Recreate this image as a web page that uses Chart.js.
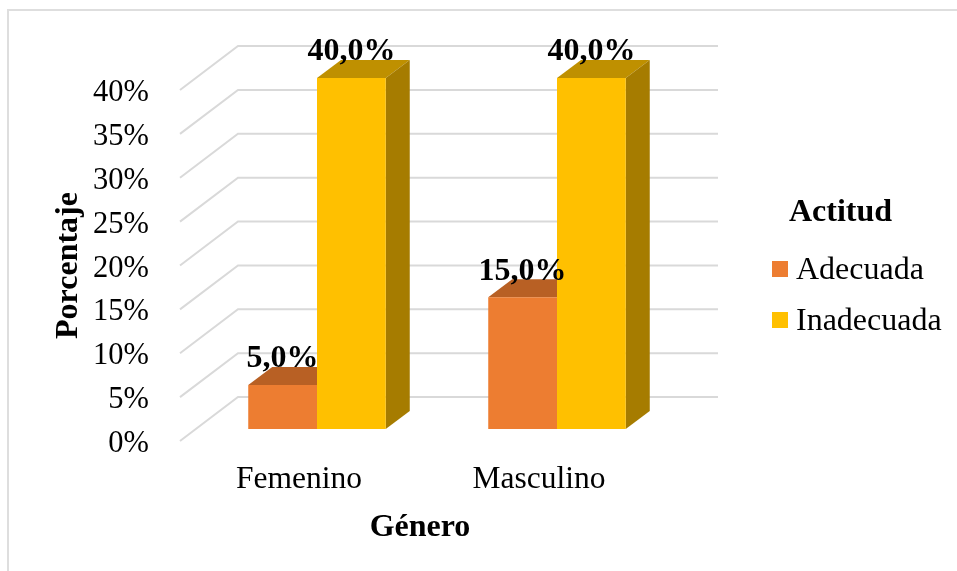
<!DOCTYPE html>
<html>
<head>
<meta charset="utf-8">
<style>
  body { margin: 0; background: #fff; }
  #frame { position: absolute; left: 7px; top: 9px; right: 0; bottom: 0; border-left: 2px solid #dedede; border-top: 2px solid #dedede; }
  canvas { position: absolute; left: 0; top: 0; }
</style>
<script src="https://cdn.jsdelivr.net/npm/chart.js@4"></script>
</head>
<body>
<div id="frame"></div>
<canvas id="myChart" width="957" height="571"></canvas>
<script>
const categories = ["Femenino", "Masculino"];
const adecuada = [5, 15];
const inadecuada = [40, 40];
const seriesNames = ["Adecuada", "Inadecuada"];
const legendTitle = "Actitud";
const xTitle = "Género";
const yTitle = "Porcentaje";

const serif = "'Liberation Serif'";
const black = "#000";

// depth of the fake 3D: wall behind the plot, and the bars themselves
const wallDx = 58, wallDy = 44;
const barDx = 24, barDy = 18;
const planeShift = 17;

const shades = [
  { front: "#ED7D31", top: "#B86024", side: "#9E5324" },
  { front: "#FFC000", top: "#BF9000", side: "#A67C00" }
];

// grid on the back wall and the diagonals on the side wall
const wallPlugin = {
  id: "wall",
  beforeDatasetsDraw(chart) {
    const y = chart.scales.y, area = chart.chartArea, c = chart.ctx;
    const left = area.left - planeShift, right = area.right - planeShift;
    c.save();
    c.strokeStyle = "#D9D9D9";
    c.lineWidth = 2;
    y.ticks.forEach(t => {
      const py = y.getPixelForValue(t.value);
      c.beginPath();
      c.moveTo(left, py);
      c.lineTo(left + wallDx, py - wallDy);
      c.lineTo(right + wallDx, py - wallDy);
      c.stroke();
    });
    c.restore();
  }
};

// top and side faces. The library paints the last dataset first, so all faces
// go down before any bar front: the yellow front then covers the orange faces
const facesPlugin = {
  id: "faces",
  beforeDatasetsDraw(chart) {
    const c = chart.ctx;
    chart.data.datasets.forEach((ds, i) => {
      const shade = shades[i];
      chart.getDatasetMeta(i).data.forEach(bar => {
        const p = bar.getProps(["x", "y", "base", "width"], true);
        const l = p.x - p.width / 2, r = p.x + p.width / 2;
        c.fillStyle = shade.top;
        c.beginPath();
        c.moveTo(l, p.y);
        c.lineTo(l + barDx, p.y - barDy);
        c.lineTo(r + barDx, p.y - barDy);
        c.lineTo(r, p.y);
        c.fill();
        c.fillStyle = shade.side;
        c.beginPath();
        c.moveTo(r, p.y);
        c.lineTo(r + barDx, p.y - barDy);
        c.lineTo(r + barDx, p.base - barDy);
        c.lineTo(r, p.base);
        c.fill();
      });
    });
  }
};

// value labels, x axis title and the legend block
const textPlugin = {
  id: "texts",
  afterDatasetsDraw(chart) {
    const c = chart.ctx, area = chart.chartArea;
    c.save();
    c.fillStyle = black;
    c.textAlign = "center";
    c.textBaseline = "middle";
    c.font = "bold 32px " + serif;
    chart.data.datasets.forEach((ds, i) => {
      chart.getDatasetMeta(i).data.forEach((bar, j) => {
        c.fillText(ds.data[j].toFixed(1).replace(".", ",") + "%", bar.x, bar.y - 26);
      });
    });
    c.fillText(xTitle, (area.left + area.right) / 2 - planeShift, 528);
    c.fillText(legendTitle, 840.5, 213);
    c.textAlign = "left";
    c.font = "32px " + serif;
    chart.data.datasets.forEach((ds, i) => {
      const rowY = 269 + i * 51;
      c.fillStyle = ds.backgroundColor;
      c.fillRect(772, rowY - 8, 16, 16);
      c.fillStyle = black;
      c.fillText(ds.label, 796, rowY + 2);
    });
    c.restore();
  }
};

new Chart(document.getElementById("myChart"), {
  type: "bar",
  data: {
    labels: categories,
    datasets: [
      { label: seriesNames[0], data: adecuada, backgroundColor: shades[0].front, yAxisID: "y1", clip: false },
      { label: seriesNames[1], data: inadecuada, backgroundColor: shades[1].front, yAxisID: "y1", clip: false }
    ]
  },
  plugins: [wallPlugin, facesPlugin, textPlugin],
  options: {
    responsive: false,
    animation: false,
    layout: { padding: { top: 90, right: 280, left: 0, bottom: 0 } },
    categoryPercentage: 0.573,
    barPercentage: 1,
    plugins: {
      legend: { display: false },
      tooltip: { enabled: false }
    },
    scales: {
      x: {
        grid: { display: false, drawTicks: false },
        border: { display: false },
        afterFit(s) { s.height = 130; },
        ticks: {
          color: black,
          font: { family: serif, size: 31.5 },
          padding: 20,
          labelOffset: -planeShift - 1,
          maxRotation: 0
        }
      },
      y: {
        min: 0,
        max: 40,
        grid: { display: false, drawTicks: false },
        border: { display: false },
        afterFit(s) { s.width = 197; },
        title: {
          display: true,
          text: yTitle,
          color: black,
          font: { family: serif, size: 32, weight: "bold" },
          padding: { top: 50, bottom: 0 }
        },
        ticks: {
          stepSize: 5,
          color: black,
          font: { family: serif, size: 30.5 },
          padding: 48,
          labelOffset: 3,
          callback: v => v + "%"
        }
      },
      // bars stand a little in front of the wall, so they get their own hidden axis
      y1: { display: false, min: -1.37, max: 38.63 }
    }
  }
});
</script>
</body>
</html>
